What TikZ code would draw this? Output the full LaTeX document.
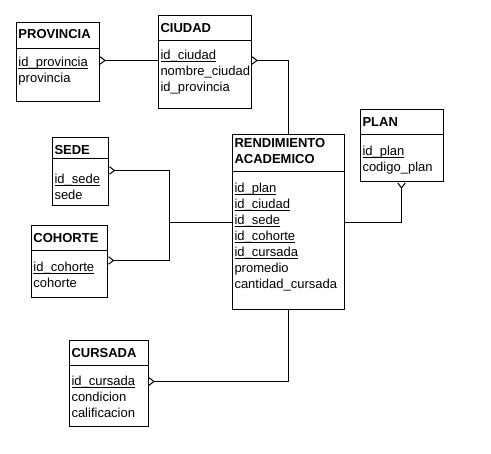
\documentclass[tikz,border=0pt]{standalone}
\usepackage{fontspec}
\setmainfont{Liberation Sans}
\usetikzlibrary{shapes.multipart,arrows.meta}
\newlength{\pklen}
\newcommand{\hd}[1]{\rule[-#1pt]{0pt}{\dimexpr13pt+#1pt\relax}}
\newcommand{\fst}[1]{\rule{0pt}{#1pt}}
\newcommand{\lst}[1]{\rule[-#1pt]{0pt}{#1pt}}
\newcommand{\pk}[1]{\leavevmode\settowidth{\pklen}{#1}\rlap{\rule[-2.5pt]{\pklen}{1pt}}#1}
\begin{document}
\begin{tikzpicture}[x=1pt,y=-1pt,
    entity/.style={draw,line width=1pt,rectangle split,rectangle split parts=2,anchor=north west,align=left,inner xsep=2.5pt,inner ysep=3pt,font=\fontsize{13}{16}\selectfont},
    crow/.style={{Straight Barb[reversed,length=5pt,width=7.5pt]}-,line width=1pt}]
  \useasboundingbox (0,0) rectangle (491,454);
  \node[entity,text width=78pt] (provincia) at (15.5,22) {\textbf{PROVINCIA}\hd{6}\nodepart{two}\fst{15}\pk{id\_provincia}\\provincia\lst{15.5}};
  \node[entity,text width=88pt] (ciudad) at (157.5,15.5) {\textbf{CIUDAD}\hd{4.8}\nodepart{two}\fst{15.4}\pk{id\_ciudad}\\nombre\_ciudad\\id\_provincia\lst{13.6}};
  \node[entity,text width=51.5pt] (sede) at (51.5,137.5) {\textbf{SEDE}\hd{0}\nodepart{two}\fst{21.4}\pk{id\_sede}\\sede\lst{3}};
  \node[entity,text width=71.5pt] (cohorte) at (30.5,225.5) {\textbf{COHORTE}\hd{4.3}\nodepart{two}\fst{17.3}\pk{id\_cohorte}\\cohorte\lst{7.4}};
  \node[entity,text width=78pt] (plan) at (359.5,109.5) {\textbf{PLAN}\hd{5}\nodepart{two}\fst{17}\pk{id\_plan}\\codigo\_plan\lst{7}};
  \node[entity,text width=107.5pt] (rend) at (231.5,134.5) {\textbf{RENDIMIENTO}\\\textbf{ACADEMICO}\hd{4.8}\nodepart{two}\fst{17.2}\pk{id\_plan}\\ \pk{id\_ciudad}\\ \pk{id\_sede}\\ \pk{id\_cohorte}\\ \pk{id\_cursada}\\promedio\\cantidad\_cursada\lst{17.2}};
  \node[entity,text width=74pt] (cursada) at (68.5,340.5) {\textbf{CURSADA}\hd{4.3}\nodepart{two}\fst{16.3}\pk{id\_cursada}\\condicion\\calificacion\lst{5.7}};
  \coordinate (join) at (169,222.5);
  \draw[crow] (provincia.east |- 0,60.5) -- (ciudad.west |- 0,60.5);
  \draw[crow] (ciudad.east |- 0,60.5) -| (rend.north);
  \draw[crow] (sede.east |- 0,170.5) -| (join);
  \draw[crow] (cohorte.east |- 0,260.5) -| (join);
  \draw[line width=1pt] (join) -- (rend.west |- join);
  \draw[crow] (plan.south) |- (rend.east);
  \draw[crow] (cursada.east |- 0,381.5) -| (rend.south);
\end{tikzpicture}
\end{document}
